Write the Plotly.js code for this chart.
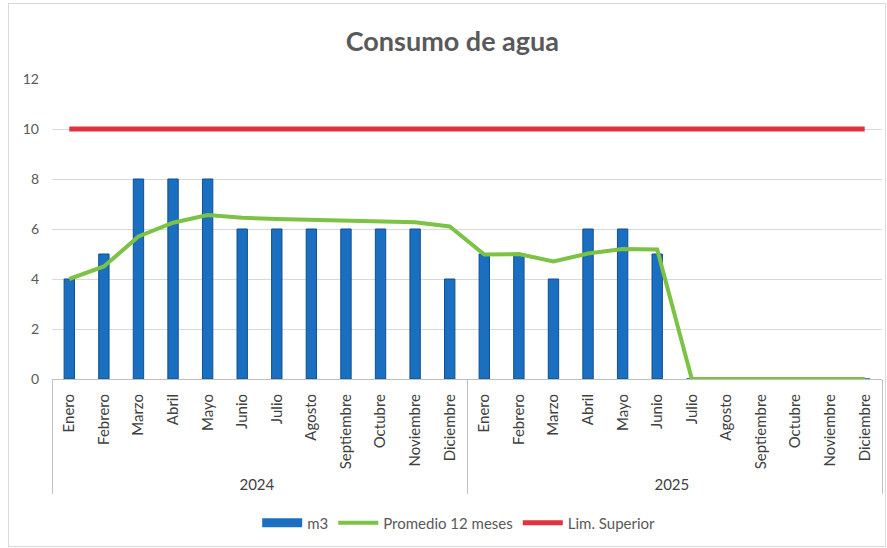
<!DOCTYPE html>
<html>
<head>
<meta charset="utf-8">
<script src="https://cdn.plot.ly/plotly-3.0.1.min.js"></script>
<style>
html,body{margin:0;padding:0;background:#fff;}
#wrap{position:absolute;left:8px;top:3px;width:878px;height:544px;border:1px solid #d9d9d9;box-sizing:border-box;}
#chart{position:absolute;left:0;top:0;width:887px;height:548px;}
</style>
</head>
<body>
<div id="wrap"></div>
<div id="chart"></div>
<script>
const years = ["2024","2024","2024","2024","2024","2024","2024","2024","2024","2024","2024","2024",
               "2025","2025","2025","2025","2025","2025","2025","2025","2025","2025","2025","2025"];
const months = ["Enero","Febrero","Marzo","Abril","Mayo","Junio","Julio","Agosto","Septiembre","Octubre","Noviembre","Diciembre",
                "Enero","Febrero","Marzo","Abril","Mayo","Junio","Julio","Agosto","Septiembre","Octubre","Noviembre","Diciembre"];
const m3 = [4,5,8,8,8,6,6,6,6,6,6,4, 5,5,4,6,6,5,0,0,0,0,0,0];
const promedio = [4.0,4.5,5.7,6.25,6.56,6.45,6.4,6.36,6.33,6.3,6.27,6.1, 4.98,5.0,4.7,5.02,5.2,5.18,0,0,0,0,0,0];
const limSuperior = [10,10,10,10,10,10,10,10,10,10,10,10, 10,10,10,10,10,10,10,10,10,10,10,10];

const x = [years, months];
const blank = months.map(() => null);

const traces = [
  {type:"bar", name:"m3", x:x, y:m3, width:0.3, showlegend:false,
   marker:{color:"#1b6fc0", line:{color:"#0f4f92", width:1}}},
  {type:"scatter", mode:"lines", name:"m3", x:x, y:blank, legendrank:1,
   line:{color:"#1b6fc0", width:9}},
  {type:"scatter", mode:"lines", name:"Promedio 12 meses", x:x, y:promedio, legendrank:2,
   line:{color:"#7cc244", width:4}},
  {type:"scatter", mode:"lines", name:"Lim. Superior", x:x, y:limSuperior, legendrank:3,
   line:{color:"#e2323f", width:5}}
];

const layout = {
  width:887, height:548,
  paper_bgcolor:"rgba(0,0,0,0)", plot_bgcolor:"rgba(0,0,0,0)",
  margin:{l:52, r:5, t:79, b:169},
  font:{family:"Lato, 'Open Sans', sans-serif", color:"#595959", size:14},
  title:{text:"<b>Consumo de agua</b>", x:0.51, xanchor:"center", y:0.925, yanchor:"middle",
         font:{size:27, color:"#595959", family:"Lato, 'Open Sans', sans-serif"}},
  xaxis:{type:"multicategory", tickangle:-90, showline:true, linecolor:"#bfbfbf", linewidth:1,
         showdividers:true, dividercolor:"#bfbfbf", dividerwidth:1,
         ticks:"", ticklabelstandoff:8, tickfont:{size:15, color:"#404040"}, showgrid:false},
  yaxis:{range:[0,12], dtick:2, showgrid:true, gridcolor:"#d9d9d9", gridwidth:1,
         zeroline:false, showline:false, ticks:"", tickfont:{size:14, color:"#595959"},
         ticklabelstandoff:12},
  legend:{orientation:"h", x:0.49, xanchor:"center", y:-0.48, yanchor:"middle",
          itemwidth:40, font:{size:15, color:"#595959"}, traceorder:"normal"},
  showlegend:true,
  bargap:0.7
};

Plotly.newPlot("chart", traces, layout, {displayModeBar:false, staticPlot:true});
</script>
</body>
</html>
